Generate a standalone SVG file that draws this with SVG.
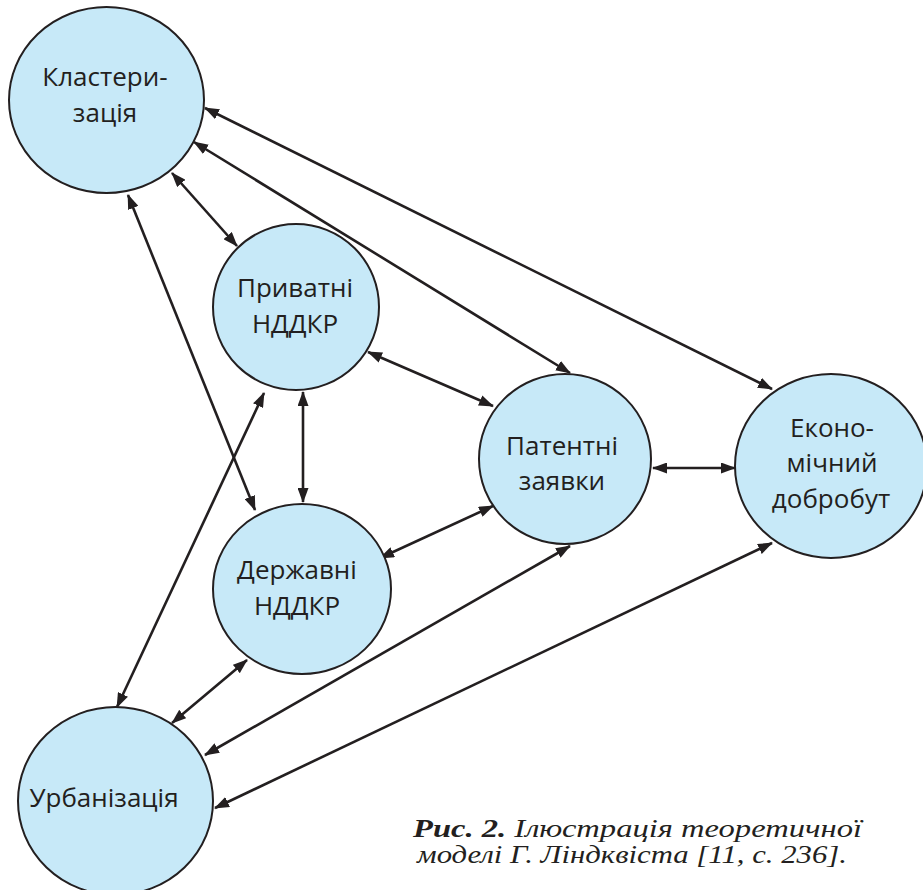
<svg xmlns="http://www.w3.org/2000/svg" width="923" height="890" viewBox="0 0 923 890">
<style>
.node{fill:#c7e9f8;stroke:#231f20;stroke-width:2}
.lbl{font-family:"Open Sans","Noto Sans",sans-serif;font-size:26px;fill:#231f20;text-anchor:middle}
.con line{stroke:#231f20;stroke-width:2.6;marker-start:url(#ah);marker-end:url(#ah)}
.cap{font-family:"Liberation Serif",serif;font-style:italic;font-size:26px;fill:#231f20}
</style>
<defs>
<marker id="ah" viewBox="0 0 15 11" refX="14" refY="5.5" markerWidth="15" markerHeight="11" markerUnits="userSpaceOnUse" orient="auto-start-reverse">
<path d="M0,0 L15,5.5 L0,11 z" fill="#231f20"/>
</marker>
</defs>
<rect width="923" height="890" fill="#ffffff"/>
<g id="connectors" class="con">
<line x1="205" y1="108" x2="772" y2="389"/>
<line x1="194" y1="142" x2="570" y2="373"/>
<line x1="172" y1="173" x2="237" y2="246"/>
<line x1="128" y1="195" x2="255" y2="510"/>
<line x1="368" y1="352" x2="493" y2="406"/>
<line x1="303" y1="392" x2="303" y2="502"/>
<line x1="264" y1="393" x2="117" y2="707"/>
<line x1="247" y1="660" x2="172" y2="723"/>
<line x1="380" y1="558" x2="493" y2="506"/>
<line x1="570" y1="546" x2="205" y2="755"/>
<line x1="772" y1="543" x2="215" y2="808"/>
<line x1="653" y1="468" x2="735" y2="468"/>
</g>
<g id="klasteryzatsiia">
<ellipse class="node" cx="106.5" cy="100" rx="97.5" ry="93"/>
<text class="lbl" x="105" y="86">Кластери-</text>
<text class="lbl" x="105" y="122">зація</text>
</g>
<g id="pryvatni">
<ellipse class="node" cx="296" cy="307" rx="83" ry="83"/>
<text class="lbl" x="295" y="297">Приватні</text>
<text class="lbl" x="295" y="333">НДДКР</text>
</g>
<g id="derzhavni">
<ellipse class="node" cx="302" cy="589" rx="89" ry="85"/>
<text class="lbl" x="297" y="579">Державні</text>
<text class="lbl" x="297" y="615">НДДКР</text>
</g>
<g id="patentni">
<ellipse class="node" cx="565" cy="459" rx="86" ry="85"/>
<text class="lbl" x="562" y="455">Патентні</text>
<text class="lbl" x="562" y="490">заявки</text>
</g>
<g id="ekonomichnyi">
<ellipse class="node" cx="831" cy="466" rx="96" ry="92"/>
<text class="lbl" x="832" y="437">Еконо-</text>
<text class="lbl" x="832" y="472">мічний</text>
<text class="lbl" x="831" y="508">добробут</text>
</g>
<g id="urbanizatsiia">
<ellipse class="node" cx="115.5" cy="801" rx="97.5" ry="94"/>
<text class="lbl" x="104" y="807">Урбанізація</text>
</g>
<g id="caption">
<text class="cap" x="413" y="837" textLength="449" lengthAdjust="spacingAndGlyphs"><tspan font-weight="bold">Рис. 2.</tspan> Ілюстрація теоретичної</text>
<text class="cap" x="417" y="863" textLength="430" lengthAdjust="spacingAndGlyphs">моделі Г. Ліндквіста [11, с. 236].</text>
</g>
</svg>
